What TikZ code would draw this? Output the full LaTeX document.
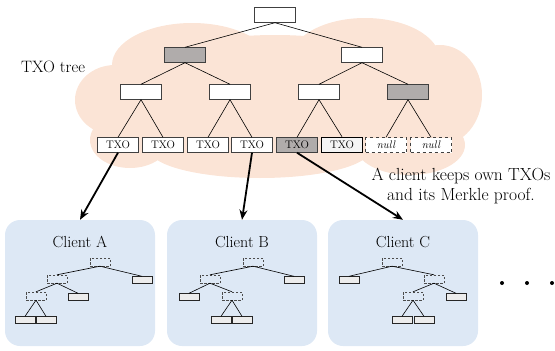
\documentclass[tikz,border=0pt]{standalone}
\usetikzlibrary{arrows.meta}
\definecolor{cloudpeach}{RGB}{251,228,214}
\definecolor{clientblue}{RGB}{221,232,245}
\definecolor{hashgray}{RGB}{176,172,171}
\definecolor{leafgray}{RGB}{236,236,236}
\begin{document}
\begin{tikzpicture}[x=1pt,y=-1pt,
  hashbox/.style={draw=black!75,fill=white,minimum width=41,minimum height=15,inner sep=0pt},
  hashgrey/.style={hashbox,fill=hashgray},
  txo/.style={hashbox,font=\fontsize{11}{12}\selectfont},
  nullbox/.style={txo,dashed,font=\fontsize{11}{12}\selectfont\itshape},
  client/.style={fill=clientblue,rounded corners=15,minimum width=150,minimum height=126},
  lbl/.style={font=\fontsize{16}{20}\selectfont},
  minileaf/.style={draw=black!85,fill=leafgray,minimum width=20,minimum height=7,inner sep=0pt},
  minihash/.style={draw=black!70,dash pattern=on 2.5pt off 1.5pt,minimum width=20,minimum height=8,inner sep=0pt},
  branch/.style={line width=0.6pt},
  >={Stealth[length=10pt,width=8pt]}]
\useasboundingbox (0,0) rectangle (555,351);
% TXO tree
\fill[cloudpeach] (275,100) ellipse [x radius=170,y radius=65]
  (192,65) ellipse [x radius=80,y radius=42]
  (365,60) ellipse [x radius=75,y radius=42]
  (440,95) ellipse [x radius=42,y radius=50]
  (115,100) ellipse [x radius=40,y radius=35]
  (130,140) ellipse [x radius=40,y radius=28]
  (260,150) ellipse [x radius=110,y radius=28]
  (410,145) ellipse [x radius=55,y radius=30];
\node[lbl,font=\fontsize{16.5}{20}\selectfont] (treename) at (53,67) {TXO tree};
\node[hashbox] (root) at (275,15) {};
\node[hashgrey] (h0) at (185,55) {};
\node[hashbox] (h1) at (362,55) {};
\node[hashbox] (h00) at (141,92) {};
\node[hashbox] (h01) at (230,92) {};
\node[hashbox] (h10) at (319,92) {};
\node[hashgrey] (h11) at (408,92) {};
\node[txo] (t1) at (118,145) {TXO};
\node[txo] (t2) at (163,145) {TXO};
\node[txo] (t3) at (208,145) {TXO};
\node[txo] (t4) at (252,145) {TXO};
\node[txo,fill=hashgray] (t5) at (297,145) {TXO};
\node[txo,fill=leafgray!60,line width=1.6pt,draw=black] (t6) at (342,145) {TXO};
\node[nullbox] (t7) at (386,145) {null};
\node[nullbox] (t8) at (431,145) {null};
\draw[branch] (root.south) -- (h0.north);
\draw[branch] (root.south) -- (h1.north);
\draw[branch] (h0.south) -- (h00.north);
\draw[branch] (h0.south) -- (h01.north);
\draw[branch] (h1.south) -- (h10.north);
\draw[branch] (h1.south) -- (h11.north);
\draw[branch] (h00.south) -- (t1.north);
\draw[branch] (h00.south) -- (t2.north);
\draw[branch] (h01.south) -- (t3.north);
\draw[branch] (h01.south) -- (t4.north);
\draw[branch] (h10.south) -- (t5.north);
\draw[branch] (h10.south) -- (t6.north);
\draw[branch] (h11.south) -- (t7.north);
\draw[branch] (h11.south) -- (t8.north);
\node[lbl,align=center,font=\fontsize{17.5}{20}\selectfont] (note) at (461,186) {A client keeps own TXOs\\and its Merkle proof.};
% clients
\node[client] (ca) at (80,283) {};
\node[client] (cb) at (242,283) {};
\node[client] (cc) at (403,283) {};
\node[lbl] (na) at (80,242) {Client A};
\node[lbl] (nb) at (242,242) {Client B};
\node[lbl] (nc) at (403,242) {Client C};
\draw[->,line width=1.8pt] (t1.south) -- (ca.north);
\draw[->,line width=1.8pt] (t4.south) -- (cb.north);
\draw[->,line width=1.8pt] (t5.south) -- (cc.north);
% client A
\node[minihash] (a) at (100,262) {};
\node[minihash] (a0) at (57,279) {};
\node[minileaf] (a1) at (142,280) {};
\node[minihash] (a00) at (36,296) {};
\node[minileaf] (a01) at (78,297) {};
\node[minileaf] (a000) at (25,320) {};
\node[minileaf] (a001) at (46,320) {};
\draw[branch] (a.south) -- (a0.north);
\draw[branch] (a.south) -- (a1.north);
\draw[branch] (a0.south) -- (a00.north);
\draw[branch] (a0.south) -- (a01.north);
\draw[branch] (a00.south) -- (a000.north);
\draw[branch] (a00.south) -- (a001.north);
% client B
\node[minihash] (b) at (253,262) {};
\node[minihash] (b0) at (210,279) {};
\node[minileaf] (b1) at (294,280) {};
\node[minileaf] (b00) at (189,297) {};
\node[minihash] (b01) at (232,296) {};
\node[minileaf] (b010) at (221,320) {};
\node[minileaf] (b011) at (242,320) {};
\draw[branch] (b.south) -- (b0.north);
\draw[branch] (b.south) -- (b1.north);
\draw[branch] (b0.south) -- (b00.north);
\draw[branch] (b0.south) -- (b01.north);
\draw[branch] (b01.south) -- (b010.north);
\draw[branch] (b01.south) -- (b011.north);
% client C
\node[minihash] (c) at (392,262) {};
\node[minileaf] (c0) at (349,280) {};
\node[minihash] (c1) at (434,279) {};
\node[minihash] (c10) at (413,296) {};
\node[minileaf] (c11) at (456,297) {};
\node[minileaf] (c100) at (402,320) {};
\node[minileaf] (c101) at (424,320) {};
\draw[branch] (c.south) -- (c0.north);
\draw[branch] (c.south) -- (c1.north);
\draw[branch] (c1.south) -- (c10.north);
\draw[branch] (c1.south) -- (c11.north);
\draw[branch] (c10.south) -- (c100.north);
\draw[branch] (c10.south) -- (c101.north);
% more clients
\fill (502,283) circle (2);
\fill (527,283) circle (2);
\fill (552,283) circle (2);
\end{tikzpicture}
\end{document}
